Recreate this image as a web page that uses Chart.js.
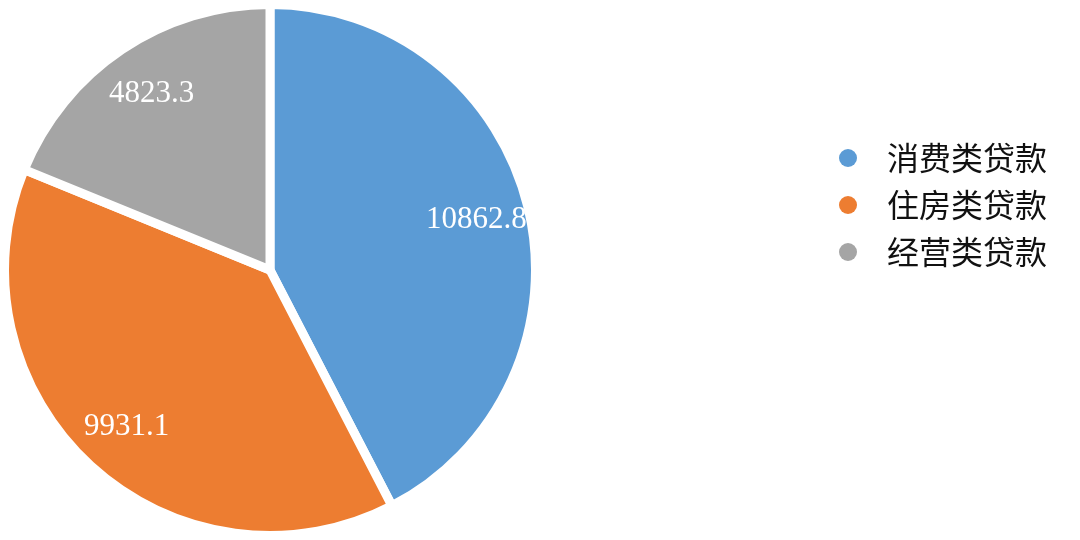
<!DOCTYPE html>
<html>
<head>
<meta charset="utf-8">
<script src="https://cdn.jsdelivr.net/npm/chart.js@4.4.1/dist/chart.umd.min.js"></script>
<style>
  html, body { margin: 0; padding: 0; background: #fff; }
  #wrap { width: 1080px; height: 540px; position: relative; }
</style>
</head>
<body>
<div id="wrap"><canvas id="pie"></canvas></div>
<script>
// loan balances by category
const categories = ['消费类贷款', '住房类贷款', '经营类贷款']
const values     = [10862.8, 9931.1, 4823.3]
const colors     = ['#5B9BD5', '#ED7D31', '#A5A5A5']

// value labels inside each slice
const sliceLabels = {
  id: 'sliceLabels',
  afterDatasetsDraw(chart) {
    const ctx = chart.ctx
    const meta = chart.getDatasetMeta(0)
    ctx.save()
    ctx.fillStyle = '#fff'
    ctx.font = '31px "Liberation Serif", "Times New Roman", serif'
    ctx.textAlign = 'center'
    ctx.textBaseline = 'middle'
    meta.data.forEach((arc, i) => {
      const p = arc.getProps(['x', 'y', 'startAngle', 'endAngle', 'outerRadius'], true)
      const mid = (p.startAngle + p.endAngle) / 2
      const r = p.outerRadius * 0.8
      ctx.fillText(values[i].toFixed(1), p.x + Math.cos(mid) * r, p.y + Math.sin(mid) * r)
    })
    ctx.restore()
  }
}

// legend on the right, circle markers
const sideLegend = {
  id: 'sideLegend',
  afterDraw(chart) {
    const ctx = chart.ctx
    ctx.save()
    ctx.font = '32px "Noto Sans CJK SC", sans-serif'
    ctx.textBaseline = 'middle'
    categories.forEach((name, i) => {
      const y = 158 + i * 47
      ctx.fillStyle = colors[i]
      ctx.beginPath()
      ctx.arc(848, y, 9, 0, Math.PI * 2)
      ctx.fill()
      ctx.fillStyle = '#111'
      ctx.fillText(name, 887, y)
    })
    ctx.restore()
  }
}

new Chart(document.getElementById('pie'), {
  type: 'pie',
  data: {
    labels: categories,
    datasets: [{
      data: values,
      backgroundColor: colors,
      borderColor: '#fff',
      borderWidth: 9,
    }]
  },
  options: {
    responsive: true, maintainAspectRatio: false, animation: false,
    layout: { padding: { left: 0, top: 0, bottom: 0, right: 540 } },
    plugins: { legend: { display: false }, tooltip: { enabled: false } },
  },
  plugins: [sliceLabels, sideLegend],
})
</script>
</body>
</html>
